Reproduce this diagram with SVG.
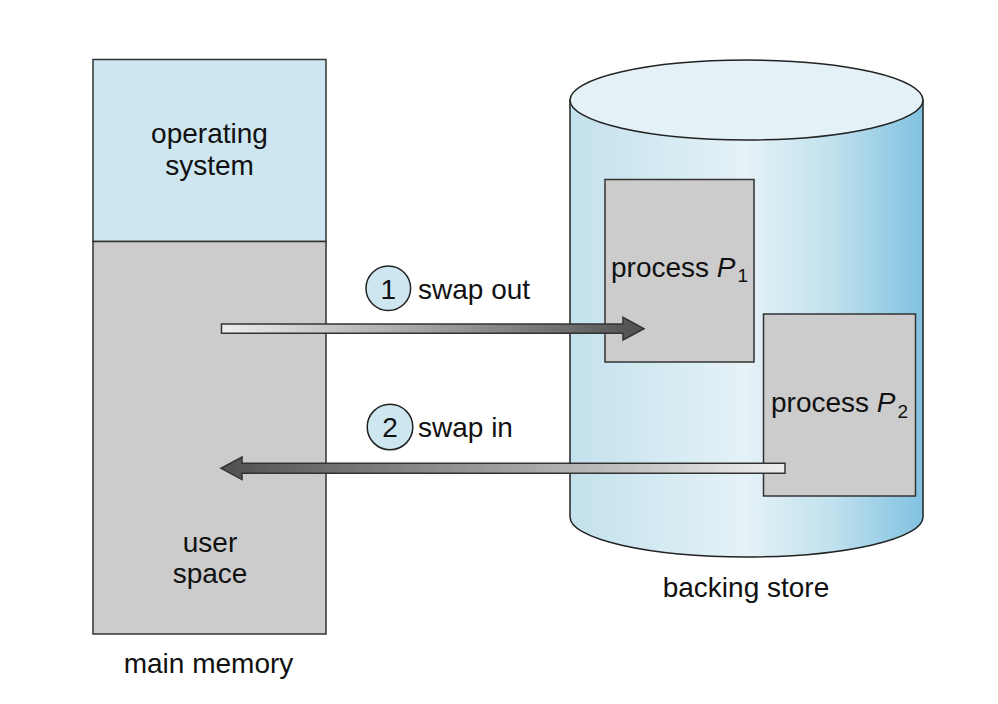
<svg xmlns="http://www.w3.org/2000/svg" width="998" height="704" viewBox="0 0 998 704">
<style>
.t{font-family:"Liberation Sans",Arial,sans-serif;font-size:28px;fill:#111}
.m{text-anchor:middle}
.box{stroke:#333;stroke-width:1.5}
.proc{fill:#cccccc;stroke:#333;stroke-width:1.5}
.num{fill:#cde6f0;stroke:#222;stroke-width:1.5}
.arr{stroke:#333;stroke-width:1.5;stroke-linejoin:miter}
.sub{font-size:19px}
</style>
<defs>
<linearGradient id="cyl" x1="570" y1="0" x2="923" y2="0" gradientUnits="userSpaceOnUse">
<stop offset="0" stop-color="#c3e1ec"/>
<stop offset="0.5" stop-color="#e5f2f7"/>
<stop offset="0.75" stop-color="#bfe0ed"/>
<stop offset="1" stop-color="#80c2e1"/>
</linearGradient>
<linearGradient id="g1" x1="221" y1="0" x2="644" y2="0" gradientUnits="userSpaceOnUse">
<stop offset="0" stop-color="#eeeeee"/>
<stop offset="1" stop-color="#505050"/>
</linearGradient>
<linearGradient id="g2" x1="785" y1="0" x2="221" y2="0" gradientUnits="userSpaceOnUse">
<stop offset="0" stop-color="#eeeeee"/>
<stop offset="1" stop-color="#505050"/>
</linearGradient>
</defs>
<rect width="998" height="704" fill="#ffffff"/>

<g id="backing-store">
<path d="M570,100 L570,517 A176.5,40 0 0 0 923,517 L923,100 Z" fill="url(#cyl)" stroke="#222" stroke-width="1.5"/>
<ellipse cx="746.5" cy="100" rx="176.5" ry="40" fill="#e4f2f7" stroke="#222" stroke-width="1.5"/>
<text class="t m" x="746" y="597">backing store</text>
</g>

<g id="process-p1">
<rect class="proc" x="605" y="179.5" width="149" height="182.5"/>
<text class="t" x="611" y="277">process <tspan font-style="italic">P</tspan><tspan class="sub" dx="2" dy="5">1</tspan></text>
</g>

<g id="process-p2">
<rect class="proc" x="763.5" y="314" width="152" height="182"/>
<text class="t" x="771" y="412">process <tspan font-style="italic">P</tspan><tspan class="sub" dx="2" dy="6">2</tspan></text>
</g>

<g id="main-memory">
<rect class="box" x="93" y="59.5" width="233" height="182" fill="#cde6f0"/>
<rect class="box" x="93" y="241.5" width="233" height="392.5" fill="#cccccc"/>
<text class="t m" x="209.5" y="143">operating</text>
<text class="t m" x="209.5" y="175">system</text>
<text class="t m" x="210" y="552">user</text>
<text class="t m" x="210" y="583">space</text>
<text class="t m" x="208.5" y="673">main memory</text>
</g>

<g id="connectors">
<polygon class="arr" fill="url(#g1)" points="221.5,324 623,324 623,317.3 644,328.7 623,340 623,333.3 221.5,333.3"/>
<polygon class="arr" fill="url(#g2)" points="785,463.3 242,463.3 242,457 221,468.3 242,479.6 242,473.3 785,473.3"/>
</g>

<g id="label-swap-out">
<circle class="num" cx="388.3" cy="288.3" r="22.3"/>
<text class="t m" x="388.3" y="299">1</text>
<text class="t" x="418" y="299">swap out</text>
</g>

<g id="label-swap-in">
<circle class="num" cx="390" cy="427" r="22.8"/>
<text class="t m" x="390" y="437">2</text>
<text class="t" x="418" y="437">swap in</text>
</g>
</svg>
